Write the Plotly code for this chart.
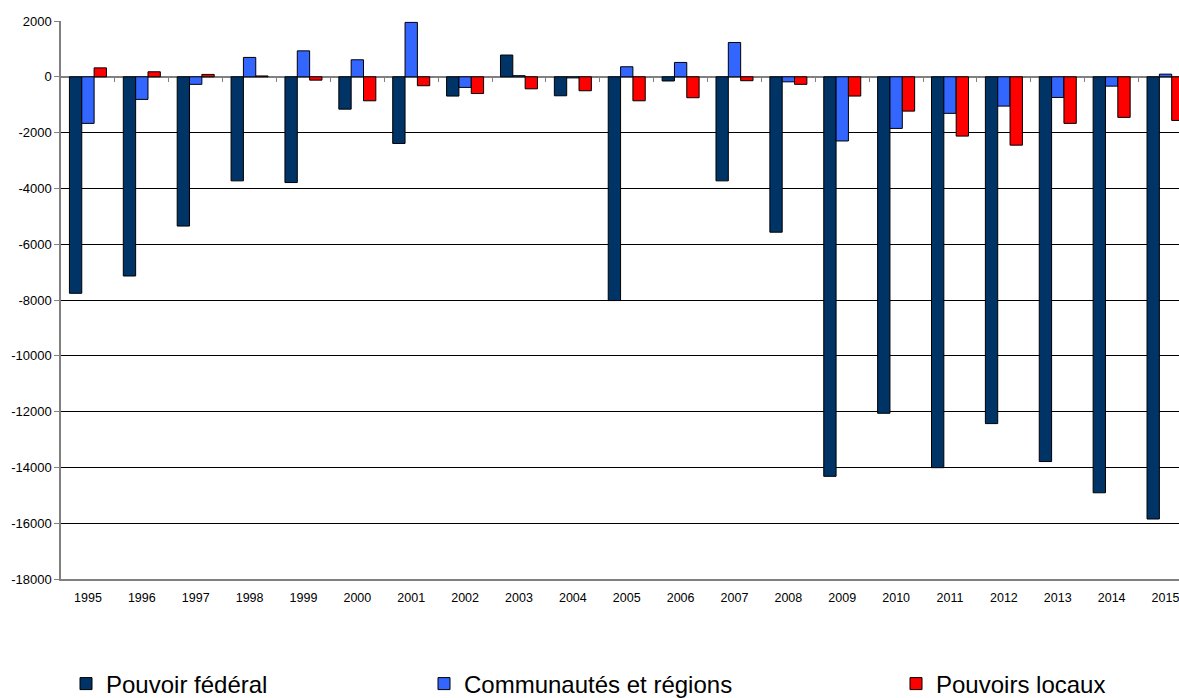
import plotly.graph_objects as go

years = [str(y) for y in range(1995, 2016)]

federal = [-7760, -7140, -5350, -3730, -3790, -1160, -2390, -690, 780, -680,
           -8020, -150, -3730, -5570, -14320, -12060, -14010, -12430, -13790, -14910, -15850]
communautes = [-1670, -810, -270, 695, 930, 610, 1950, -380, 40, -40,
               360, 515, 1230, -180, -2300, -1850, -1310, -1050, -740, -335, 95]
locaux = [320, 180, 85, 30, -120, -860, -320, -600, -430, -500,
          -860, -750, -140, -270, -690, -1230, -2125, -2450, -1670, -1455, -1565]

names = ["Pouvoir fédéral", "Communautés et régions", "Pouvoirs locaux"]
colors = ["#003366", "#3366FF", "#FF0000"]
y_ticks = list(range(-18000, 2001, 2000))
y_ticktext = [str(v) for v in y_ticks]

FONT = "Liberation Sans, Arial, sans-serif"

fig = go.Figure()
for i, (name, vals, col) in enumerate(zip(names, [federal, communautes, locaux], colors)):
    fig.add_trace(go.Bar(
        x=years, y=vals, name=name,
        marker=dict(color=col, line=dict(color="#000000", width=1)),
        legend="legend" if i == 0 else f"legend{i+1}",
    ))

# invisible trace so the zero-crossing tick axis is drawn
fig.add_trace(go.Scatter(x=[0], y=[0], xaxis="x2", mode="markers",
                         marker=dict(opacity=0), showlegend=False, hoverinfo="skip"))

boundaries = [i + 0.5 for i in range(len(years) - 1)]

legend_common = dict(orientation="h", yref="container", yanchor="middle", y=(698 - 684) / 698,
                     xanchor="left",
                     font=dict(family=FONT, size=24, color="#000000"),
                     bgcolor="rgba(0,0,0,0)", itemwidth=30)

fig.update_layout(
    width=1179, height=698,
    margin=dict(l=61, r=0, t=21, b=119, autoexpand=False),
    paper_bgcolor="white", plot_bgcolor="white",
    barmode="group", bargap=0.313, bargroupgap=0,
    font=dict(family=FONT, color="#000000"),
    xaxis=dict(type="category", range=[-0.5, 20.25], showgrid=False,
               showline=True, linecolor="#808080", linewidth=1.5,
               ticks="", tickfont=dict(family=FONT, size=12.5, color="#000000"),
               ticklabelstandoff=6, zeroline=False, fixedrange=True),
    xaxis2=dict(type="linear", overlaying="x", anchor="free", position=0.9,
                range=[-0.5, 20.25], tickmode="array", tickvals=boundaries,
                ticks="outside", ticklen=4, tickcolor="#808080", tickwidth=1,
                showticklabels=False, showgrid=False, showline=False, zeroline=False),
    yaxis=dict(range=[-18000, 2000], tickmode="array", tickvals=y_ticks, ticktext=y_ticktext,
               showgrid=True, gridcolor="#000000", gridwidth=1,
               zeroline=True, zerolinecolor="#808080", zerolinewidth=1.5,
               showline=True, linecolor="#808080", linewidth=1.5,
               ticks="outside", ticklen=5, tickcolor="#808080",
               tickfont=dict(family=FONT, size=13, color="#000000")),
    legend=dict(x=(66 - 61) / 1118, **legend_common),
    legend2=dict(x=(424 - 61) / 1118, **legend_common),
    legend3=dict(x=(896 - 61) / 1118, **legend_common),
    showlegend=True,
)

fig.write_html("out.html")
